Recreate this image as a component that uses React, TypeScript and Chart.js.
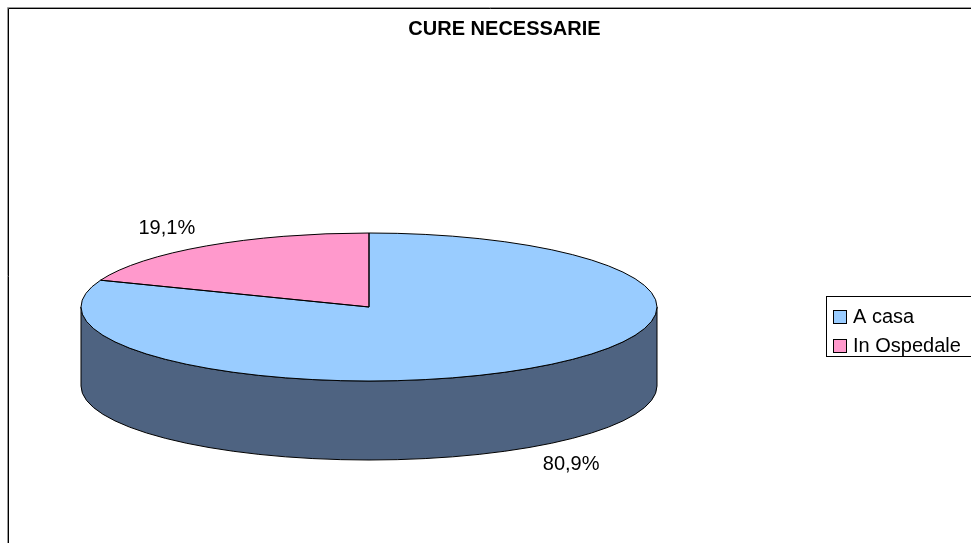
import React, { useEffect, useRef } from "react";
import { Chart, registerables } from "chart.js";

Chart.register(...registerables);

const titleText = "CURE NECESSARIE";
const categories = ["A casa", "In Ospedale"];
const values = [80.9, 19.1];

const topColors = ["#99CCFF", "#FF99CC"];
const sideColors = ["#4E6381", "#8A4F6E"];

const CX = 369;
const CY = 307;
const RX = 288;
const RY = 74;
const DEPTH = 79;
const FONT = "'Liberation Sans', Arial, sans-serif";

const pie3d = {
  id: "pie3d",
  beforeDraw(chart: any) {
    const ctx = chart.ctx;
    ctx.save();
    ctx.fillStyle = "#ffffff";
    ctx.fillRect(0, 0, chart.width, chart.height);
    // outer frame (extends past right/bottom edges)
    ctx.lineWidth = 1;
    ctx.strokeStyle = "#9a9a9a";
    ctx.beginPath();
    ctx.moveTo(7.5, chart.height + 5);
    ctx.lineTo(7.5, 7.5);
    ctx.lineTo(chart.width + 5, 7.5);
    ctx.stroke();
    ctx.strokeStyle = "#000000";
    ctx.beginPath();
    ctx.moveTo(8.5, chart.height + 5);
    ctx.lineTo(8.5, 8.5);
    ctx.lineTo(chart.width + 5, 8.5);
    ctx.stroke();
    // title
    ctx.fillStyle = "#000000";
    ctx.font = `bold 20px ${FONT}`;
    ctx.textAlign = "center";
    ctx.textBaseline = "middle";
    ctx.fillText(titleText, 504.5, 29);
    ctx.restore();
  },
  beforeDatasetsDraw(chart: any) {
    const ctx = chart.ctx;
    const meta = chart.getDatasetMeta(0);
    const first = meta.data[0];
    if (!first) return;
    // side wall (front half only)
    ctx.save();
    ctx.lineWidth = 1;
    ctx.strokeStyle = "#000000";
    meta.data.forEach((arc: any, i: number) => {
      const s = arc.startAngle;
      const e = arc.endAngle;
      for (let k = -1; k <= 1; k++) {
        const lo = Math.max(s, k * 2 * Math.PI);
        const hi = Math.min(e, k * 2 * Math.PI + Math.PI);
        if (hi > lo) {
          ctx.beginPath();
          ctx.ellipse(CX, CY, RX, RY, 0, lo, hi, false);
          ctx.lineTo(CX + RX * Math.cos(hi), CY + DEPTH + RY * Math.sin(hi));
          ctx.ellipse(CX, CY + DEPTH, RX, RY, 0, hi, lo, true);
          ctx.closePath();
          ctx.fillStyle = sideColors[i % sideColors.length];
          ctx.fill();
          ctx.stroke();
        }
      }
    });
    ctx.restore();
    // squash the top face into an ellipse
    const r = first.outerRadius;
    ctx.save();
    ctx.translate(CX, CY);
    ctx.scale(RX / r, RY / r);
    ctx.translate(-first.x, -first.y);
  },
  afterDatasetsDraw(chart: any) {
    const ctx = chart.ctx;
    const meta = chart.getDatasetMeta(0);
    if (!meta.data[0]) return;
    ctx.restore();
    ctx.save();
    ctx.lineWidth = 1;
    ctx.strokeStyle = "#000000";
    meta.data.forEach((arc: any) => {
      ctx.beginPath();
      ctx.moveTo(CX, CY);
      ctx.ellipse(CX, CY, RX, RY, 0, arc.startAngle, arc.endAngle, false);
      ctx.closePath();
      ctx.stroke();
    });
    // data labels
    const data = chart.data.datasets[0].data as number[];
    const total = data.reduce((a, b) => a + b, 0);
    ctx.fillStyle = "#000000";
    ctx.font = `20px ${FONT}`;
    ctx.textAlign = "center";
    ctx.textBaseline = "middle";
    meta.data.forEach((arc: any, i: number) => {
      const mid = (arc.startAngle + arc.endAngle) / 2;
      const c = Math.cos(mid);
      const s = Math.sin(mid);
      const x = CX + (RX + 70) * c;
      const y = CY + (RY + 21) * s + (s > 0 ? DEPTH : 0);
      const pct = ((data[i] / total) * 100).toFixed(1).replace(".", ",") + "%";
      ctx.fillText(pct, x, y);
    });
    ctx.restore();
  },
  afterDraw(chart: any) {
    const ctx = chart.ctx;
    ctx.save();
    // legend box
    ctx.fillStyle = "#ffffff";
    ctx.fillRect(826.5, 296.5, 160, 60);
    ctx.lineWidth = 1;
    ctx.strokeStyle = "#000000";
    ctx.strokeRect(826.5, 296.5, 160, 60);
    ctx.font = `20px ${FONT}`;
    ctx.textAlign = "left";
    ctx.textBaseline = "middle";
    const labels = chart.data.labels as string[];
    labels.forEach((lab, i) => {
      const cy = 317 + i * 29;
      ctx.fillStyle = topColors[i % topColors.length];
      ctx.fillRect(833.5, cy - 6.5, 13, 13);
      ctx.strokeStyle = "#000000";
      ctx.strokeRect(833.5, cy - 6.5, 13, 13);
      ctx.fillStyle = "#000000";
      ctx.fillText(lab, 853, cy);
    });
    ctx.restore();
  },
};

export default function App() {
  const canvasRef = useRef<HTMLCanvasElement | null>(null);
  useEffect(() => {
    if (!canvasRef.current) return;
    const chart = new Chart(canvasRef.current, {
      type: "pie",
      data: {
        labels: categories,
        datasets: [
          {
            data: values,
            backgroundColor: topColors,
            borderWidth: 0,
            clip: false as any,
          },
        ],
      },
      options: {
        animation: false,
        responsive: true,
        maintainAspectRatio: false,
        rotation: 0,
        plugins: {
          legend: { display: false },
          title: { display: false },
          tooltip: { enabled: false },
        },
        events: [],
      },
      plugins: [pie3d],
    });
    return () => chart.destroy();
  }, []);
  return (
    <div
      style={{
        position: "fixed",
        left: 0,
        top: 0,
        width: 971,
        height: 543,
        background: "#fff",
      }}
    >
      <canvas ref={canvasRef} />
    </div>
  );
}
